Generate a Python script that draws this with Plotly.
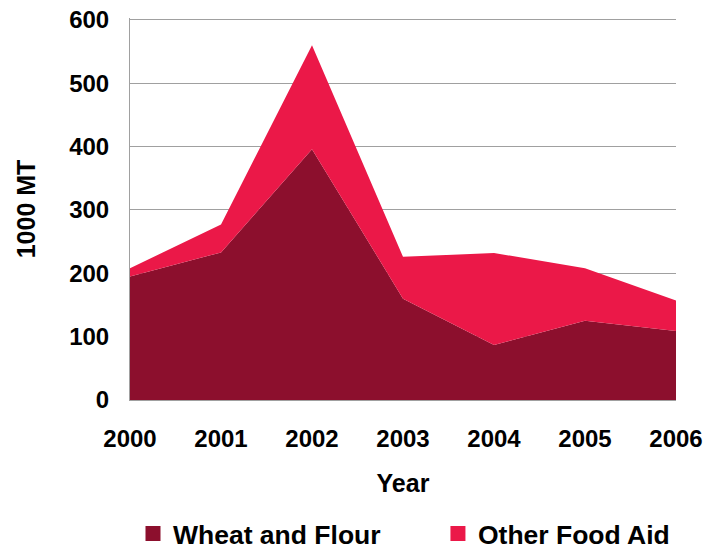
import plotly.graph_objects as go

years = [2000, 2001, 2002, 2003, 2004, 2005, 2006]
wheat_and_flour = [195, 233, 396, 160, 87, 125, 109]
other_food_aid = [13, 44, 164, 66, 145, 83, 48]
y_ticks = [0, 100, 200, 300, 400, 500, 600]

series_names = ["Wheat and Flour", "Other Food Aid"]
series_colors = ["#8C0F2D", "#EB1848"]
legend_ids = ["legend", "legend2"]

FONT = "Liberation Sans, Arial, sans-serif"

fig = go.Figure()
for name, vals, col in zip(series_names, [wheat_and_flour, other_food_aid], series_colors):
    fig.add_trace(go.Scatter(
        x=years, y=vals, name=name, mode="lines",
        stackgroup="one", line=dict(width=0, color=col), fillcolor=col,
        showlegend=False, hoverinfo="x+y+name",
    ))
# legend-only entries with square swatches
for name, col, lg in zip(series_names, series_colors, legend_ids):
    fig.add_trace(go.Scatter(
        x=[None], y=[None], name=name, mode="markers",
        marker=dict(symbol="square", size=15, color=col),
        showlegend=True, legend=lg,
    ))

legend_font = dict(family=FONT, size=26.5, weight="bold", color="black")
fig.update_layout(
    width=706, height=548,
    margin=dict(l=130, r=30, t=18, b=148, autoexpand=False),
    paper_bgcolor="white", plot_bgcolor="white",
    font=dict(family=FONT, color="black", weight="bold", size=24),
    showlegend=True,
    legend=dict(
        orientation="h", x=0.0055, xanchor="left",
        y=-0.35, yanchor="middle", traceorder="normal",
        font=legend_font, itemsizing="trace", bgcolor="rgba(0,0,0,0)",
    ),
    legend2=dict(
        orientation="h", x=0.564, xanchor="left",
        y=-0.35, yanchor="middle", traceorder="normal",
        font=legend_font, itemsizing="trace", bgcolor="rgba(0,0,0,0)",
    ),
    xaxis=dict(
        range=[2000, 2006], tickmode="array", tickvals=years,
        ticktext=[str(y) for y in years],
        showgrid=False, zeroline=False, automargin=False,
        showline=True, linecolor="#A0A0A0", linewidth=1,
        ticks="", ticklabelstandoff=17, ticklabeloverflow="allow",
        tickfont=dict(size=24, weight="bold"),
        title=dict(text="Year", font=dict(size=25, weight="bold"), standoff=23),
    ),
    yaxis=dict(
        range=[0, 603], tickmode="array", tickvals=y_ticks,
        ticktext=[str(v) for v in y_ticks],
        showgrid=True, gridcolor="#A0A0A0", gridwidth=1,
        zeroline=False, showline=True, linecolor="#A0A0A0", linewidth=1, automargin=False,
        ticks="", ticklabelstandoff=15, ticklabeloverflow="allow",
        tickfont=dict(size=24, weight="bold"),
        title=dict(text="1000 MT", font=dict(size=25, weight="bold"), standoff=26),
    ),
)

fig.write_html(
    "out.html",
    config={"displayModeBar": False},
    post_script="document.body.style.margin='0px';document.body.style.overflow='hidden';",
)
